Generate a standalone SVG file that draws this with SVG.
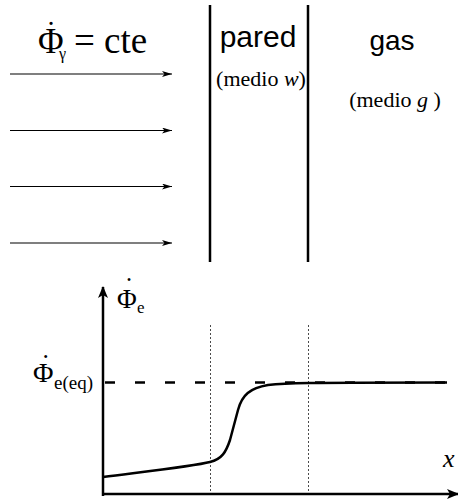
<svg xmlns="http://www.w3.org/2000/svg" width="458" height="500" viewBox="0 0 458 500">
<style>
.serif{font-family:'Liberation Serif','DejaVu Serif',serif;fill:#000}
.sans{font-family:'Liberation Sans','DejaVu Sans',sans-serif;fill:#000}
.thin{stroke:#000;stroke-width:1.2;fill:none}
.thick{stroke:#000;stroke-width:2.5;fill:none}
</style>
<defs>
<marker id="ah" viewBox="0 0 10 6" refX="10" refY="3" markerWidth="10" markerHeight="6" markerUnits="userSpaceOnUse" orient="auto">
<path d="M0,0 L10,3 L0,6 L2.5,3 Z" fill="#000"/>
</marker>
<marker id="ahb" viewBox="0 0 12 10" refX="11" refY="5" markerWidth="12" markerHeight="10" markerUnits="userSpaceOnUse" orient="auto">
<path d="M0,0 L12,5 L0,10 L3,5 Z" fill="#000"/>
</marker>
</defs>
<g id="flux-label">
<text class="serif" x="38" y="53" font-size="35">Φ<tspan x="46" y="42" font-size="30">˙</tspan><tspan x="59" y="59" font-size="16">γ</tspan><tspan x="74" y="53" font-size="37">= cte</tspan></text>
</g>
<g id="wall">
<line class="thick" x1="210" y1="5" x2="210" y2="262"/>
<line class="thick" x1="308" y1="5" x2="308" y2="262"/>
<text class="sans" x="258" y="47" font-size="30" text-anchor="middle">pared</text>
<text class="serif" x="261" y="86" font-size="22" text-anchor="middle">(medio <tspan font-style="italic">w</tspan>)</text>
</g>
<g id="gas">
<text class="sans" x="392" y="50" font-size="28" text-anchor="middle">gas</text>
<text class="serif" x="395" y="107" font-size="22" text-anchor="middle">(medio <tspan font-style="italic">g</tspan> )</text>
</g>
<g id="connectors">
<line class="thin" x1="10" y1="74" x2="172" y2="74" marker-end="url(#ah)"/>
<line class="thin" x1="10" y1="130.5" x2="172" y2="130.5" marker-end="url(#ah)"/>
<line class="thin" x1="10" y1="186.5" x2="172" y2="186.5" marker-end="url(#ah)"/>
<line class="thin" x1="10" y1="243" x2="172" y2="243" marker-end="url(#ah)"/>
</g>
<g id="plot">
<line x1="210.5" y1="325" x2="210.5" y2="494" stroke="#000" stroke-width="1" stroke-dasharray="2,2" opacity="0.7"/>
<line x1="308.5" y1="325" x2="308.5" y2="494" stroke="#000" stroke-width="1" stroke-dasharray="2,2" opacity="0.7"/>
<line x1="105" y1="382.5" x2="447" y2="382.5" stroke="#000" stroke-width="2.5" stroke-dasharray="10,20"/>
<path class="thick" d="M103,477 C150,471 195,466 210,462 C222,459 226,452 230,440 L238,410 C242,395 250,388 268,385 C285,383 300,382.5 447,382.5"/>
<line class="thick" x1="103" y1="496" x2="103" y2="287" marker-end="url(#ahb)"/>
<line class="thick" x1="102" y1="494" x2="458" y2="494" marker-end="url(#ahb)"/>
<text class="serif" x="117" y="308" font-size="27">Φ<tspan x="124.5" y="296">˙</tspan><tspan x="137" y="313" font-size="17">e</tspan></text>
<text class="serif" x="33" y="382" font-size="28">Φ<tspan x="41" y="373">˙</tspan><tspan x="54" y="389" font-size="19">e(eq)</tspan></text>
<text class="serif" x="443" y="467" font-size="26" font-style="italic">x</text>
</g>
</svg>
